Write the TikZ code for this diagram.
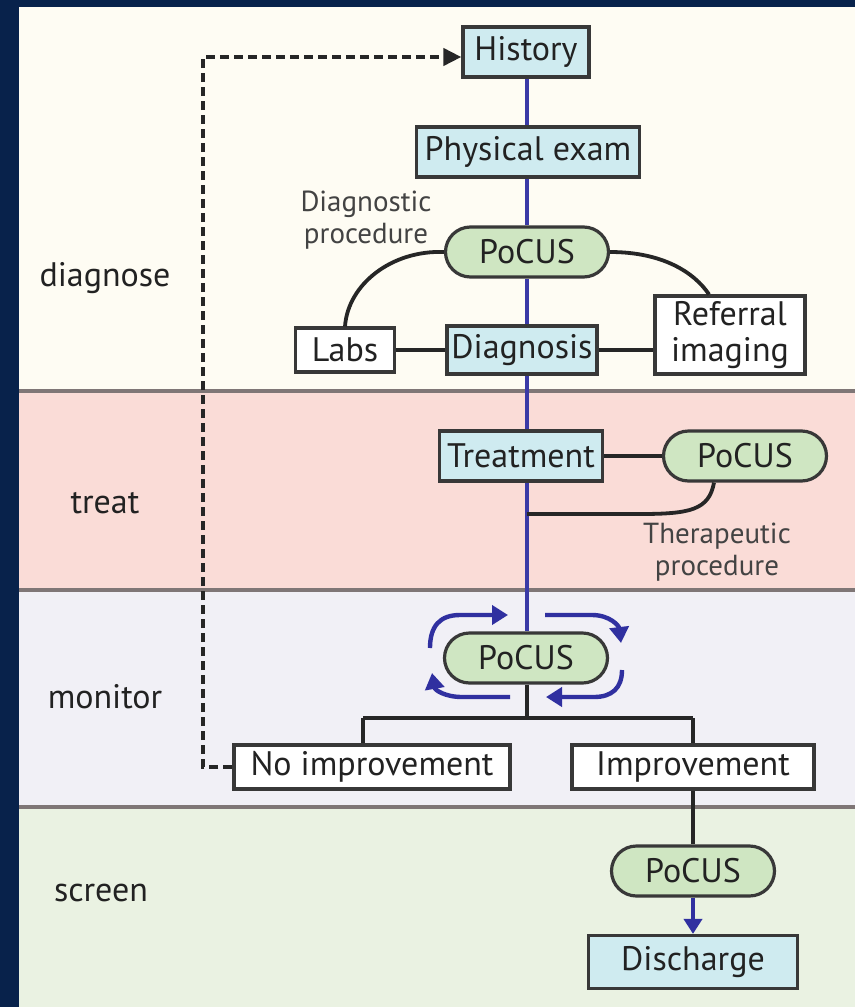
\documentclass[tikz,border=0pt]{standalone}
\usepackage{fontspec}
\setmainfont{PT Sans}
\usetikzlibrary{arrows.meta,calc}

\definecolor{navy}{RGB}{8,34,75}
\definecolor{bandA}{RGB}{254,252,243}
\definecolor{bandB}{RGB}{250,220,215}
\definecolor{bandC}{RGB}{241,240,246}
\definecolor{bandD}{RGB}{234,242,226}
\definecolor{boxblue}{RGB}{207,235,240}
\definecolor{pillgreen}{RGB}{207,230,194}
\definecolor{sepgray}{RGB}{127,118,118}
\definecolor{ink}{RGB}{34,34,34}
\definecolor{spineblue}{RGB}{58,58,166}
\definecolor{arrowblue}{RGB}{48,48,160}

\tikzset{
  base/.style={draw=ink!90, line width=3.2pt, text=ink, inner sep=0pt,
    font=\fontsize{34}{36}\selectfont},
  stepbox/.style={base, fill=boxblue, rectangle, minimum height=50pt},
  plainbox/.style={base, fill=white, rectangle, minimum height=44pt},
  pill/.style={base, fill=pillgreen, rectangle, rounded corners=25pt, minimum height=50pt, minimum width=163pt},
  stage/.style={text=ink, font=\fontsize{34}{36}\selectfont},
  note/.style={text=ink!85, align=center, font=\fontsize{29}{31.5}\selectfont},
  link/.style={line width=3.8pt, draw=black!85},
  spine/.style={line width=3.4pt, draw=spineblue},
  cycle/.style={line width=4.4pt, draw=arrowblue, -{Triangle[length=16pt,width=19pt]}},
  sep/.style={line width=3.2pt, draw=sepgray},
}

\begin{document}
\begin{tikzpicture}[x=1pt,y=-1pt]
% frame and stage bands
\fill[navy] (0,0) rectangle (855,1007);
\fill[bandA] (19,7) rectangle (855,391);
\fill[bandB] (19,391) rectangle (855,590);
\fill[bandC] (19,590) rectangle (855,807);
\fill[bandD] (19,807) rectangle (855,1007);
\draw[sep] (19,391) -- (855,391);
\draw[sep] (19,590) -- (855,590);
\draw[sep] (19,807) -- (855,807);

% stage labels
\node[stage] (lDiag) at (105,278) {diagnose};
\node[stage] (lTreat) at (105,503) {treat};
\node[stage] (lMon) at (105,697) {monitor};
\node[stage] (lScr) at (101,893) {screen};

% diagnose
\node[stepbox, minimum width=126pt] (hist) at (526,52) {History};
\node[stepbox, minimum width=223pt] (phys) at (528,152) {Physical exam};
\node[pill] (pocusD) at (527,252) {PoCUS};
\node[note] (dproc) at (366,220) {Diagnostic\\procedure};
\node[plainbox, minimum width=99pt, minimum height=44pt] (labs) at (345,350) {Labs};
\node[stepbox, minimum width=150pt, minimum height=48pt] (diag) at (522,350) {Diagnosis};
\node[plainbox, minimum width=150pt, minimum height=78pt, align=center,
      font=\fontsize{34}{36}\selectfont] (ref) at (730,335) {Referral\\imaging};

% treat
\node[stepbox, minimum width=163pt] (treat) at (521,456) {Treatment};
\node[pill] (pocusT) at (745,456) {PoCUS};
\node[note] (tproc) at (717,552) {Therapeutic\\procedure};
\coordinate (tj) at (527,514);

% monitor
\node[pill, minimum width=163pt, minimum height=50pt] (pocusM) at (526,658) {PoCUS};
\node[plainbox, minimum width=276pt] (noimp) at (372,767) {No improvement};
\node[plainbox, minimum width=242pt] (imp) at (693,767) {Improvement};
\coordinate (bl) at (363,718);
\coordinate (br) at (693,718);

% screen
\node[pill] (pocusS) at (693,871) {PoCUS};
\node[stepbox, minimum width=209pt, minimum height=53pt] (disch) at (693,962) {Discharge};

% main blue spine
\coordinate (col) at (527,0);
\draw[spine] (col |- hist.south) -- (col |- phys.north);
\draw[spine] (col |- phys.south) -- (col |- pocusD.north);
\draw[spine] (col |- pocusD.south) -- (col |- diag.north);
\draw[spine] (col |- diag.south) -- (col |- treat.north);
\draw[spine] (col |- treat.south) -- (col |- pocusM.north);

% diagnostic side links
\draw[link] (pocusD.west) .. controls (392,250) and (348,284) .. (labs.north);
\coordinate (refTop) at ($(ref.north)+(-21,0)$);
\draw[link] (pocusD.east) .. controls (662,252) and (694,272) .. (refTop);
\draw[link] (labs.east) -- (diag.west);
\draw[link] (diag.east) -- (diag.east -| ref.west);

% treatment links
\draw[link] (treat.east) -- (pocusT.west);
\coordinate (tStart) at ($(pocusT.south)+(-31,0)$);
\draw[link] (tStart) .. controls (709,510) and (690,514) .. (640,514) -- (tj);

% monitoring cycle arrows
\draw[cycle] (430,648) .. controls (430,626) and (440,615) .. (460,615) -- (508,615);
\draw[cycle] (545,615) -- (592,615) .. controls (610,615) and (619,626) .. (621,643);
\draw[cycle] (622,670) .. controls (622,688) and (612,697) .. (594,697) -- (546,697);
\draw[cycle] (510,697) -- (462,697) .. controls (445,697) and (435,690) .. (432,673);

% outcome branches
\draw[link] (col |- pocusM.south) -- (col |- bl);
\draw[link] (bl) -- (br);
\draw[link] (bl) -- (bl |- noimp.north);
\draw[link] (br) -- (imp.north);

% feedback loop back to history
\draw[line width=4pt, draw=black!85, dash pattern=on 9pt off 5pt,
      -{Triangle[length=18pt,width=17pt]}]
  (noimp.west) -- ++(-29,0) |- ($(hist.west)+(0,5)$);

% screening path
\draw[link] (imp.south) -- (pocusS.north);
\draw[line width=3.8pt, draw=arrowblue, -{Triangle[length=15pt,width=18pt]}]
  (pocusS.south) -- (disch.north);
\end{tikzpicture}
\end{document}
